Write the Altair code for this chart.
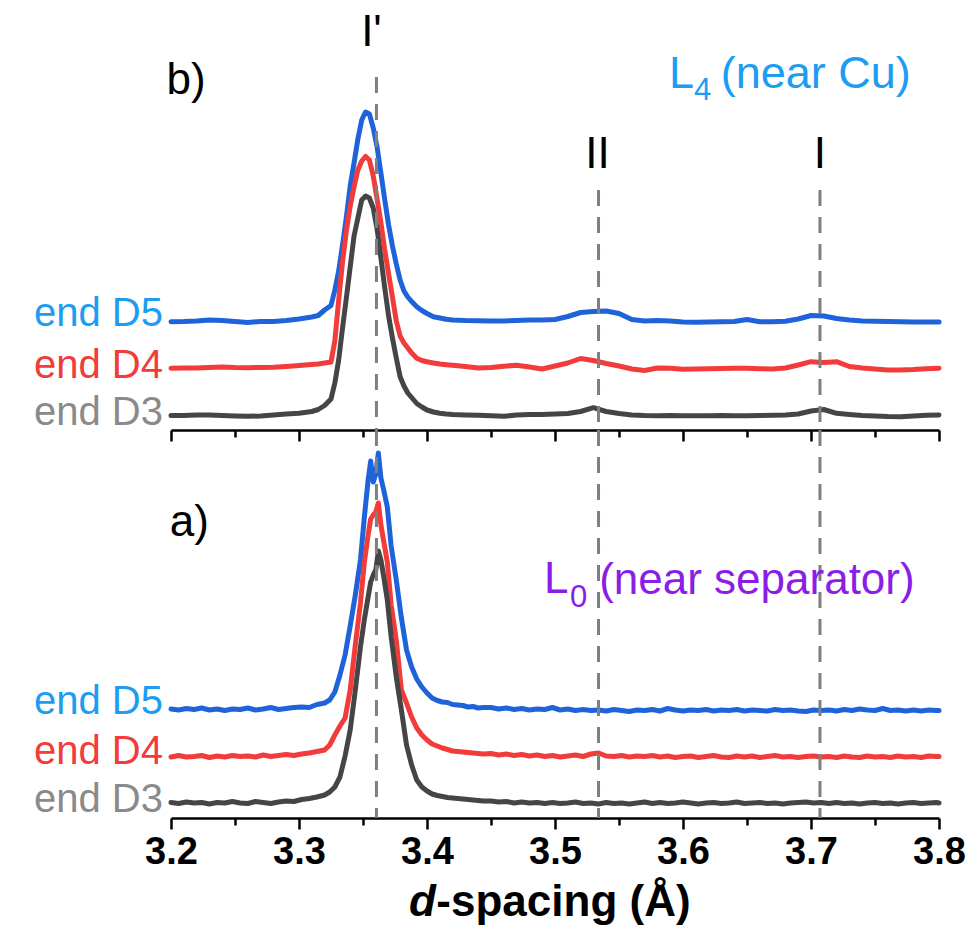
import altair as alt
import pandas as pd

FONT = "Liberation Sans"

# ---------------- top panel b) : L4 (near Cu) ----------------
D_TOP = [3.20, 3.21, 3.22, 3.23, 3.24, 3.25, 3.26, 3.27, 3.28, 3.29, 3.30, 3.31,
         3.315, 3.320, 3.325, 3.328, 3.331, 3.334, 3.337, 3.340, 3.343, 3.346, 3.349,
         3.352, 3.355, 3.358, 3.361, 3.364, 3.367, 3.370, 3.373, 3.376, 3.379, 3.382,
         3.385, 3.388, 3.392, 3.396, 3.400, 3.405, 3.410, 3.415, 3.420,
         3.43, 3.44, 3.45, 3.46, 3.47, 3.48, 3.49, 3.50, 3.51, 3.52, 3.53, 3.54, 3.55,
         3.56, 3.57, 3.58, 3.59, 3.60, 3.61, 3.62, 3.63, 3.64, 3.65, 3.66, 3.67, 3.68,
         3.69, 3.70, 3.71, 3.72, 3.73, 3.74, 3.75, 3.76, 3.77, 3.78, 3.79, 3.80]

TOP_D5 = [108.3, 108.5, 109, 110, 109.5, 108.5, 107.5, 108.5, 108.5, 109.5, 111, 113,
          114.5, 120, 124.5, 140, 159, 185, 213, 244, 267, 291, 310, 318, 316, 302, 283,
          257, 230, 205, 184, 166, 150, 139, 133, 128.5, 123.3, 119.5, 116.5, 113.3, 112,
          110.7, 110,
          109.5, 109.3, 109, 109, 109.5, 110, 110, 110.5, 113.5, 117.5, 118.5, 119, 116.5,
          110.5, 109, 109.5, 109, 108, 107.7, 108, 108.3, 108.5, 110.5, 108.3, 108.3, 108.7,
          111, 114.5, 114, 111.5, 110, 109, 108.7, 108.5, 108.3, 108, 108, 108]

TOP_D4 = [61.7, 62, 62, 62.5, 63, 62.5, 62.3, 62.5, 62.7, 63.5, 64.5, 65.5,
          66, 67, 68, 89, 130, 168, 199, 224, 243, 260, 269, 273.5, 270, 254, 231, 207,
          180, 156, 133, 109, 94, 87, 82, 77, 71.7, 69.5, 68.3, 67, 66, 65.3, 64.7,
          63.5, 62, 62.5, 63.8, 64.8, 63, 61, 64, 67, 71.5, 69.5, 66.5, 64, 61, 59.5, 62,
          61.7, 60.7, 61, 61.3, 61.5, 61.7, 61.7, 61.3, 61, 62, 65, 68.3, 67.5, 68.3, 63.5,
          62, 61, 60, 60, 60.5, 61.3, 61.7]

TOP_D3 = [14.5, 14.5, 15, 15, 14.5, 14, 13.7, 14, 15, 16, 16.7, 18.5,
          20.5, 24.5, 31, 47, 70, 102, 132, 163, 194, 212, 230, 234, 232, 222, 201, 172,
          142, 114, 92, 72, 53.3, 44, 37, 32.5, 26.5, 23, 20, 18, 16.7, 16, 15.5,
          15, 14.7, 14.3, 13.7, 15, 15.5, 15.5, 16, 16.5, 18.5, 22.3, 18.5, 16.5, 15, 14.5,
          14.3, 14.5, 14.3, 14.3, 14.3, 14.5, 14.3, 14.3, 14.5, 14.7, 15, 16, 19, 20.5, 16.7,
          15.5, 14.5, 14, 13.5, 13.3, 14, 14.7, 15]

# ---------------- bottom panel a) : L0 (near separator) ----------------
D_BOT = [3.200, 3.206, 3.212, 3.218, 3.224, 3.230, 3.236, 3.242, 3.248, 3.254, 3.260,
         3.266, 3.272, 3.278, 3.284, 3.290, 3.296, 3.302, 3.308, 3.314, 3.320,
         3.324, 3.328, 3.332, 3.336, 3.340, 3.344, 3.348, 3.351, 3.354, 3.356, 3.358,
         3.360, 3.362, 3.364, 3.366, 3.369, 3.372, 3.376, 3.380, 3.384, 3.388, 3.392,
         3.396, 3.400, 3.404, 3.408, 3.412, 3.416, 3.420, 3.424, 3.428, 3.432, 3.436,
         3.440, 3.444,
         3.450, 3.456, 3.462, 3.468, 3.474, 3.480, 3.486, 3.492, 3.498, 3.504, 3.510,
         3.516, 3.522, 3.528, 3.534, 3.540, 3.546, 3.552, 3.558, 3.564, 3.570, 3.576,
         3.582, 3.588, 3.594, 3.600, 3.606, 3.612, 3.618, 3.624, 3.630, 3.636, 3.642,
         3.648, 3.654, 3.660, 3.666, 3.672, 3.678, 3.684, 3.690, 3.696, 3.702, 3.708,
         3.714, 3.720, 3.726, 3.732, 3.738, 3.744, 3.750, 3.756, 3.762, 3.768, 3.774,
         3.780, 3.786, 3.792, 3.798, 3.800]

BOT_D5 = [109, 108, 109.5, 108.5, 110, 108, 109, 107.5, 109, 108.5, 110, 108, 109, 110.5,
          108.5, 109.5, 110.5, 111, 110.5, 113.5, 115,
          118, 126, 143, 163, 192, 223, 258, 300, 338, 357, 336, 344, 365, 340, 329, 311,
          272, 238, 200, 168, 151, 139, 131, 125, 120, 117.5, 116, 115.5, 113.5, 113, 112.5,
          111, 111.5, 110, 110.5,
          110.5, 109, 110, 108.5, 109.5, 108, 109, 108.5, 110.5, 108, 109, 107.5, 108.5,
          107.5, 108, 107, 108.5, 107.5, 106.5, 108, 107.5, 108.5, 107, 109.5, 108, 107, 108,
          107.5, 108.5, 107, 108, 107.5, 108.5, 107, 108, 107.5, 107, 108.5, 107.5, 108, 107,
          106.5, 108, 107.5, 108, 107, 108.5, 107.5, 109, 108, 107.5, 109.5, 107.5, 108, 107,
          108, 107, 108, 107.5, 107.5]

BOT_D4 = [61, 62.5, 61, 61.5, 62.5, 60.5, 62, 61, 62.5, 61.5, 62, 61, 63, 61.5, 62.5, 63.5,
          62.5, 64, 65, 66.5, 68,
          73, 83, 92, 100, 128, 173, 215, 255, 283, 299, 303, 306, 315, 293, 278, 256, 213,
          178, 128, 115, 101, 90, 83, 78, 74, 72, 70, 68.5, 67, 66.5, 66, 65.5, 65, 64.5, 64,
          64.5, 63, 64, 62.5, 63.5, 62, 63, 61.5, 62.5, 61, 62, 63, 61.5, 64, 65, 62, 61.5,
          62.5, 61, 62, 61.5, 62.5, 61, 62, 60.5, 61.5, 62, 60.5, 61.5, 62.5, 61, 60.5, 62,
          61, 62, 60.5, 61.5, 62.5, 61, 61.5, 60.5, 61.5, 62, 61, 61.5, 60.5, 62, 61, 60.5,
          62, 61, 61.5, 60.5, 62, 61, 61.5, 60.5, 62, 61.5, 61.5]

BOT_D3 = [15.5, 14.5, 16, 15, 15.5, 14, 15.5, 15, 16.5, 15, 14.5, 16.5, 15.5, 14.5, 16, 17,
          16.5, 18.5, 19.5, 21, 23,
          26, 31, 41, 62, 88, 128, 171, 198, 221, 236, 243, 248, 267, 258, 243, 218, 181,
          141, 108, 73, 53, 38, 31, 27, 24, 22.5, 21.5, 20.5, 20, 19.5, 19, 18.5, 18, 17.5, 17,
          17, 16, 16.5, 15, 16, 15, 15.5, 14.5, 15.5, 14.5, 15, 16, 14.5, 15, 14, 15.5, 14.5,
          15, 14, 15, 16, 14.5, 15.5, 14.5, 15, 16, 15, 14, 15, 15.5, 14.5, 15, 16, 14.5, 15,
          15.5, 14.5, 15, 14, 15, 15.5, 16, 15, 15.5, 14.5, 15.5, 14.5, 15, 14, 15, 15.5,
          14.5, 15, 14, 15, 15.5, 14.5, 15, 15.5, 15]

SERIES = ["end D5", "end D4", "end D3"]
LINE_COLORS = ["#1F63DB", "#F23B3B", "#454545"]
LABEL_COLORS = ["#1C9DF2", "#F23B3B", "#8A8A8A"]

TOP_LABEL_Y = [116, 64, 17]
BOT_LABEL_Y = [116, 66, 18]

REF_D = [3.3605, 3.534, 3.707]
REF_TEXT = ["I'", "II", "I"]
REF_TEXT_D = [3.3566, 3.5332, 3.707]
REF_TEXT_Y = [397, 275, 275]
TOP_RULE_START = [353, 240, 240]

TOP_H = 425
BOT_H = 388
W = 768

X_TICKS = [3.2, 3.25, 3.3, 3.35, 3.4, 3.45, 3.5, 3.55, 3.6, 3.65, 3.7, 3.75, 3.8]
MAJOR = "abs(datum.value*10 - round(datum.value*10)) < 0.001"

x_scale = alt.Scale(domain=[3.2, 3.8], nice=False, zero=False)

common_axis = dict(values=X_TICKS, orient="bottom", grid=False, domainColor="black",
                   tickColor="black", domainWidth=2.5, tickWidth=2.5,
                   tickSize={"condition": {"test": MAJOR, "value": 11}, "value": 7})

top_axis = alt.Axis(labels=False, title=None, **common_axis)
bot_axis = alt.Axis(title=None, labelExpr=MAJOR + " ? format(datum.value, '.1f') : ''",
                    labelFont=FONT, labelFontWeight="bold", labelFontSize=38,
                    labelColor="black", labelPadding=4, labelFlush=False,
                    labelOverlap=False, **common_axis)


def panel(d, series_vals, height, axis, label_y, rule_start, extra_texts):
    y_scale = alt.Scale(domain=[0, height], nice=False, zero=False)
    X = alt.X("d:Q", scale=x_scale, axis=axis)
    Y = alt.Y("v:Q", scale=y_scale, axis=None)
    layers = []
    for vals, col in zip(series_vals, LINE_COLORS):
        df = pd.DataFrame({"d": d[:len(vals)], "v": vals[:len(d)]})
        layers.append(alt.Chart(df).mark_line(color=col, strokeWidth=5,
                                              strokeJoin="round", strokeCap="round")
                      .encode(x=X, y=Y))
    rules = pd.DataFrame({"d": REF_D, "v": rule_start, "v2": [0, 0, 0]})
    layers.append(alt.Chart(rules).mark_rule(color="#7F7F7F", strokeWidth=3,
                                             strokeDash=[16, 11])
                  .encode(x=X, y=Y, y2=alt.Y2("v2:Q")))
    labels = pd.DataFrame({"d": [3.2] * 3, "v": label_y, "t": SERIES, "c": LABEL_COLORS})
    layers.append(alt.Chart(labels).mark_text(align="right", baseline="middle", dx=-8,
                                              font=FONT, fontSize=40)
                  .encode(x=X, y=Y, text="t:N", color=alt.Color("c:N", scale=None)))
    for t in extra_texts:
        df = pd.DataFrame({"d": t["d"], "v": t["v"], "t": t["t"]})
        layers.append(alt.Chart(df).mark_text(align=t.get("align", "left"),
                                              baseline=t.get("baseline", "alphabetic"),
                                              font=FONT, fontSize=t["size"],
                                              fontWeight=t.get("weight", "normal"),
                                              fontStyle=t.get("style", "normal"),
                                              color=t["color"])
                      .encode(x=X, y=Y, text="t:N"))
    return alt.layer(*layers).properties(width=W, height=height)


top_texts = [
    {"d": REF_TEXT_D, "v": REF_TEXT_Y, "t": REF_TEXT, "size": 44, "color": "black",
     "align": "center", "baseline": "middle"},
    {"d": [3.1965], "v": [349], "t": ["b)"], "size": 44, "color": "black",
     "baseline": "middle"},
    {"d": [3.589], "v": [342], "t": ["L"], "size": 45, "color": "#1C9DF2"},
    {"d": [3.6085], "v": [330], "t": ["4"], "size": 31, "color": "#1C9DF2"},
    {"d": [3.6295], "v": [342], "t": ["(near Cu)"], "size": 45, "color": "#1C9DF2"},
]

bot_texts = [
    {"d": [3.199], "v": [295], "t": ["a)"], "size": 44, "color": "black",
     "baseline": "middle"},
    {"d": [3.4914], "v": [225], "t": ["L"], "size": 44, "color": "#8A1EE6"},
    {"d": [3.5118], "v": [211], "t": ["0"], "size": 31, "color": "#8A1EE6"},
    {"d": [3.5345], "v": [224], "t": ["(near separator)"], "size": 44, "color": "#8A1EE6"},
    {"d": [3.3859], "v": [-98], "t": ["d"], "size": 44, "color": "black",
     "weight": "bold", "style": "italic"},
    {"d": [3.4073], "v": [-98], "t": ["-spacing (Å)"], "size": 44, "color": "black",
     "weight": "bold"},
]

top = panel(D_TOP, [TOP_D5, TOP_D4, TOP_D3], TOP_H, top_axis, TOP_LABEL_Y,
            TOP_RULE_START, top_texts)
bottom = panel(D_BOT, [BOT_D5, BOT_D4, BOT_D3], BOT_H, bot_axis, BOT_LABEL_Y,
               [BOT_H, BOT_H, BOT_H], bot_texts)

chart = (alt.vconcat(top, bottom, spacing=0, bounds="flush")
         .properties(padding={"left": 34, "top": 5, "right": 5, "bottom": 3},
                     background="white")
         .configure_view(stroke=None))

chart.save("out.html", embed_options={"renderer": "svg", "actions": False})
